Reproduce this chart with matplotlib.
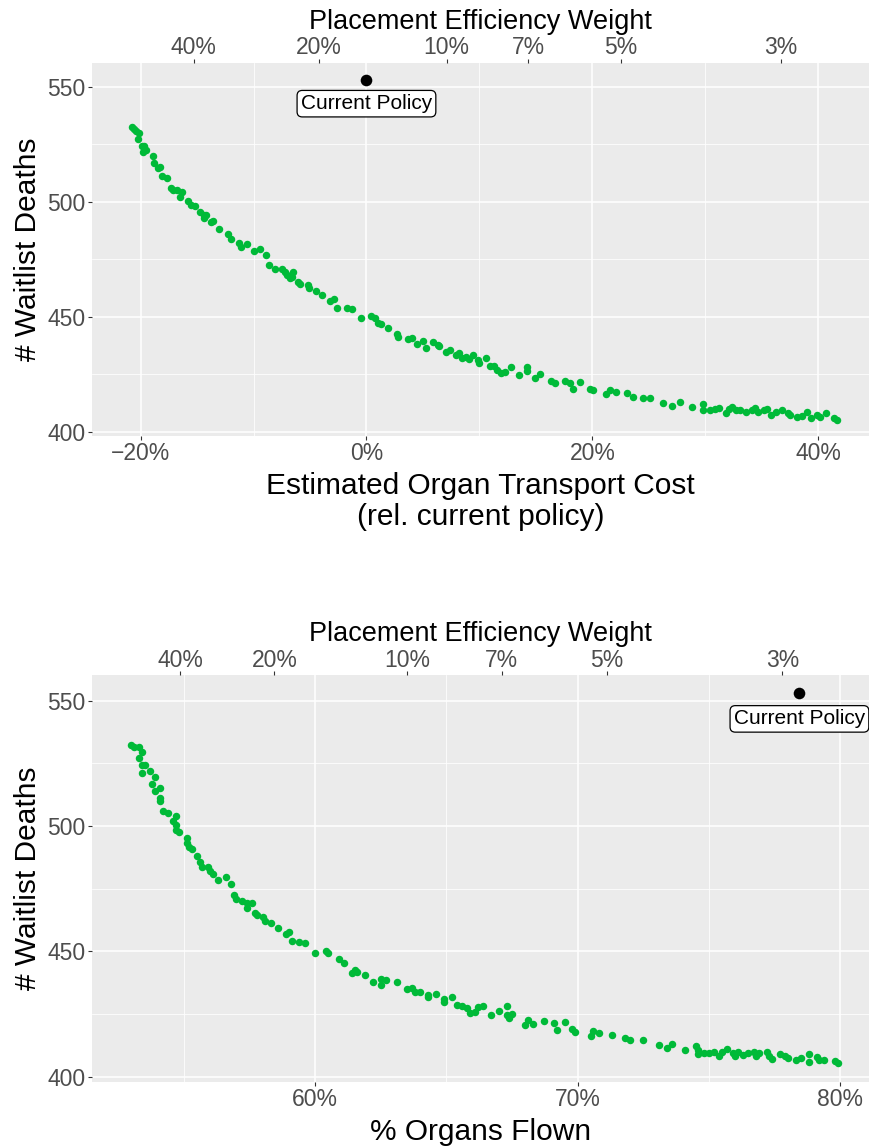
import matplotlib
matplotlib.use("Agg")
import matplotlib.pyplot as plt
from matplotlib.ticker import FixedLocator, FuncFormatter

plt.rcParams["font.family"] = ["Liberation Sans", "DejaVu Sans"]

# ---- top panel: transport cost (% rel. current policy) vs waitlist deaths
cost_x = [-20.8, -20.6, -20.4, -20.1, -20.2, -19.9, -19.7, -19.8, -19.5, -18.9,
          -18.8, -18.5, -18.3, -18.1, -17.7, -17.3, -17.1, -16.8, -16.3, -16.5,
          -15.8, -15.5, -15.2, -14.7, -14.4, -14.2, -14.4, -13.8, -13.6, -13.1,
          -12.3, -12.0, -11.3, -11.1, -10.6, -10.0, -9.4, -8.9, -8.6, -8.1,
          -7.5, -7.2, -7.0, -6.5, -6.8, -6.1, -6.6, -5.9, -5.2, -5.1,
          -4.5, -3.9, -3.2, -2.9, -2.6, -1.7, -1.3, -0.5, 0.4, 0.8,
          1.0, 1.3, 1.9, 2.7, 2.8, 3.7, 4.0, 4.5, 5.0, 5.3,
          5.9, 6.3, 6.4, 7.0, 7.4, 7.9, 8.2, 8.5, 8.8, 9.1,
          9.4, 9.9, 10.0, 10.6, 10.9, 11.3, 11.6, 11.9, 12.3, 12.8,
          13.5, 14.2, 14.2, 14.9, 15.4, 16.3, 16.7, 17.6, 18.0, 18.3,
          18.9, 19.8, 20.1, 21.2, 21.6, 22.1, 23.1, 23.6, 24.5, 25.1,
          26.3, 27.1, 27.8, 28.8, 29.8, 29.8, 30.4, 30.9, 31.2, 31.8,
          32.1, 32.4, 32.7, 33.1, 33.6, 34.1, 34.4, 34.7, 35.2, 35.5,
          35.8, 36.3, 36.8, 37.3, 37.5, 38.1, 38.6, 39.0, 39.4, 39.9,
          40.2, 40.7, 41.4, 41.7]
cost_deaths = [532.7, 531.7, 531.0, 529.9, 527.4, 524.5, 524.5, 521.9, 522.6, 520.0,
               517.1, 514.7, 515.3, 511.3, 510.3, 506.2, 505.2, 505.2, 504.2, 502.3,
               500.4, 498.6, 498.3, 495.5, 494.3, 494.3, 492.9, 491.2, 491.7, 488.1,
               486.0, 483.9, 482.3, 480.3, 481.6, 478.7, 479.7, 477.0, 472.5, 470.9,
               470.7, 469.7, 468.3, 469.3, 467.1, 465.3, 467.5, 464.2, 463.9, 462.5,
               461.3, 459.3, 457.0, 457.8, 454.0, 454.0, 453.5, 449.4, 450.3, 449.4,
               447.3, 446.8, 445.3, 442.5, 441.4, 440.4, 440.7, 438.1, 439.3, 436.4,
               439.0, 437.8, 437.5, 434.9, 435.7, 433.5, 434.2, 432.3, 432.7, 431.7,
               433.2, 431.3, 429.9, 432.0, 428.8, 428.8, 427.0, 425.5, 426.2, 428.0,
               424.8, 428.0, 426.5, 423.6, 425.1, 421.9, 421.2, 422.3, 421.4, 418.7,
               421.6, 418.7, 418.0, 416.5, 418.3, 417.3, 416.8, 415.3, 414.7, 414.7,
               412.7, 411.4, 413.0, 410.6, 412.2, 409.3, 409.6, 409.9, 410.3, 408.4,
               409.9, 411.0, 409.6, 409.3, 408.8, 409.6, 410.3, 408.8, 409.6, 410.0,
               407.4, 408.8, 409.3, 408.1, 407.4, 406.4, 407.0, 408.8, 406.0, 407.4,
               406.4, 408.3, 406.2, 405.2]

# ---- bottom panel: % organs flown vs waitlist deaths
flown_x = [53.0, 53.1, 53.3, 53.4, 53.3, 53.4, 53.5, 53.4, 53.7, 53.9,
           53.8, 53.9, 54.1, 54.1, 54.1, 54.2, 54.4, 54.7, 54.6, 54.7,
           54.7, 54.8, 55.1, 55.1, 55.2, 55.3, 55.5, 55.6, 55.7, 55.9,
           56.0, 56.1, 56.3, 56.6, 56.8, 56.9, 57.0, 57.2, 57.4, 57.6,
           57.4, 57.7, 57.8, 58.0, 58.1, 58.3, 58.6, 58.9, 59.0, 59.1,
           59.4, 59.6, 60.0, 60.4, 60.5, 60.9, 61.1, 61.4, 61.5, 61.6,
           61.9, 62.2, 62.5, 62.5, 62.7, 63.1, 63.5, 63.7, 63.8, 64.0,
           64.3, 64.3, 64.6, 64.9, 64.9, 65.2, 65.4, 65.6, 65.8, 65.9,
           66.1, 66.2, 66.4, 66.7, 67.0, 67.3, 67.3, 67.4, 67.5, 68.0,
           68.1, 68.3, 68.7, 69.1, 69.2, 69.5, 69.8, 69.9, 70.5, 70.6,
           70.8, 71.3, 71.8, 72.0, 72.5, 73.1, 73.4, 73.6, 74.1, 74.5,
           74.6, 74.6, 74.8, 75.0, 75.2, 75.4, 75.5, 75.7, 75.9, 76.0,
           76.1, 76.3, 76.5, 76.7, 76.8, 76.9, 77.2, 77.3, 77.4, 77.7,
           77.9, 78.0, 78.3, 78.5, 78.8, 78.8, 79.1, 79.2, 79.4, 79.8,
           79.9]
flown_deaths = [532.3, 531.4, 531.4, 529.6, 527.0, 524.3, 524.3, 521.3, 522.0, 519.7,
                516.7, 514.1, 515.0, 510.0, 511.0, 506.1, 505.1, 504.0, 502.1, 500.4,
                498.4, 497.7, 495.1, 493.3, 491.7, 490.8, 488.0, 485.6, 483.8, 483.5,
                482.2, 480.7, 478.5, 479.5, 476.9, 472.5, 470.8, 470.2, 469.2, 469.2,
                467.2, 465.4, 464.5, 463.8, 462.2, 461.2, 459.2, 456.9, 457.9, 454.0,
                453.9, 453.5, 449.5, 450.3, 449.2, 446.8, 445.3, 441.5, 442.6, 441.9,
                440.6, 437.9, 439.1, 436.5, 438.6, 437.7, 434.9, 435.5, 433.7, 433.9,
                432.6, 431.7, 433.0, 430.9, 429.9, 431.9, 428.6, 428.2, 427.3, 425.6,
                426.0, 427.7, 428.0, 424.6, 426.4, 428.0, 424.6, 423.3, 425.0, 420.7,
                422.6, 421.0, 422.4, 421.3, 418.7, 421.7, 418.9, 417.9, 416.4, 418.4,
                417.3, 416.7, 415.3, 414.7, 414.7, 412.7, 411.4, 413.1, 410.7, 412.3,
                410.7, 409.1, 409.6, 409.6, 410.0, 408.3, 410.0, 411.0, 409.6, 408.3,
                410.0, 408.7, 409.6, 410.0, 408.3, 409.4, 410.0, 408.3, 407.0, 409.1,
                408.3, 407.4, 406.7, 407.4, 409.1, 406.0, 407.8, 406.7, 406.7, 406.4,
                405.4]

# current policy markers
current_cost = 0.0
current_flown = 78.45
current_deaths = 553.0

# secondary axis (placement efficiency weight), tick positions in primary units
weight_labels = ["40%", "20%", "10%", "7%", "5%", "3%"]
weight_at_cost = [-15.3, -4.2, 7.1, 14.3, 22.5, 36.7]
weight_at_flown = [54.87, 58.45, 63.5, 67.1, 71.1, 77.8]

GREEN = "#00BA38"
PANEL = "#EBEBEB"
TICKCOL = "#4D4D4D"
TICKSIZE = 16.5
TITLESIZE = 21.5


def pct(v, pos=None):
    s = f"{v:.0f}%"
    return s.replace("-", "\u2212")


def style(ax, xmaj, xmin, xlim, ylim):
    ax.set_facecolor(PANEL)
    for sp in ax.spines.values():
        sp.set_visible(False)
    ax.set_xlim(*xlim)
    ax.set_ylim(*ylim)
    ax.xaxis.set_major_locator(FixedLocator(xmaj))
    ax.xaxis.set_minor_locator(FixedLocator(xmin))
    ax.yaxis.set_major_locator(FixedLocator([400, 450, 500, 550]))
    ax.yaxis.set_minor_locator(FixedLocator([425, 475, 525]))
    ax.xaxis.set_major_formatter(FuncFormatter(pct))
    ax.grid(which="major", color="white", lw=1.1)
    ax.grid(which="minor", color="white", lw=0.55)
    ax.set_axisbelow(True)
    ax.tick_params(which="major", length=3, width=0.8, color="#333333",
                   labelsize=TICKSIZE, labelcolor=TICKCOL, pad=1.5)
    ax.tick_params(which="minor", length=0)
    ax.set_ylabel("# Waitlist Deaths", fontsize=TITLESIZE, labelpad=4)


def top_axis(ax, positions):
    sec = ax.secondary_xaxis("top")
    sec.set_xticks(positions, weight_labels)
    sec.tick_params(length=3, width=0.8, color="#333333",
                    labelsize=TICKSIZE, labelcolor=TICKCOL, pad=-0.5)
    for sp in sec.spines.values():
        sp.set_visible(False)
    sec.set_xlabel("Placement Efficiency Weight", fontsize=19.5, labelpad=5.5)


def current(ax, x, y):
    ax.scatter([x], [y], s=70, color="black", zorder=4, linewidths=0)
    ax.text(x, y - 10.3, "Current Policy", ha="center", va="center",
            fontsize=15, zorder=5,
            bbox=dict(boxstyle="round,pad=0.18,rounding_size=0.25",
                      fc="white", ec="black", lw=0.9))


fig = plt.figure(figsize=(8.69, 11.47), dpi=100)

ax1 = fig.add_axes([0.1059, 0.6199, 0.8941, 0.3252])
style(ax1, [-20, 0, 20, 40], [-10, 10, 30], (-24.3, 44.5), (398.2, 560.4))
ax1.scatter(cost_x, cost_deaths, s=29, color=GREEN, linewidths=0, zorder=3)
current(ax1, current_cost, current_deaths)
top_axis(ax1, weight_at_cost)
ax1.set_xlabel("Estimated Organ Transport Cost\n(rel. current policy)",
               fontsize=TITLESIZE, labelpad=5, linespacing=1.13)

ax2 = fig.add_axes([0.1059, 0.0567, 0.8941, 0.3548])
style(ax2, [60, 70, 80], [55, 65, 75], (51.5, 81.1), (397.9, 560.2))
ax2.scatter(flown_x, flown_deaths, s=29, color=GREEN, linewidths=0, zorder=3)
current(ax2, current_flown, current_deaths)
top_axis(ax2, weight_at_flown)
ax2.set_xlabel("% Organs Flown", fontsize=TITLESIZE, labelpad=5)

fig.savefig("out.png", dpi=100)
